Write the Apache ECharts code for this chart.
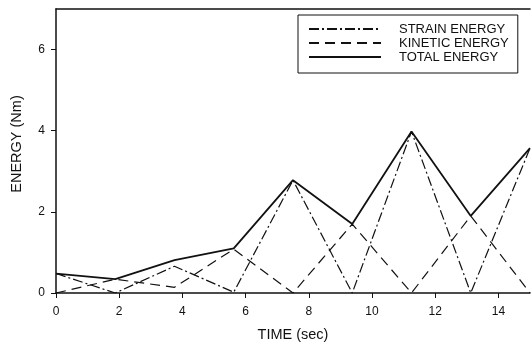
<!DOCTYPE html>
<html>
<head>
<meta charset="utf-8">
<title>Energy vs Time</title>
<script src="https://cdn.jsdelivr.net/npm/echarts@6/dist/echarts.min.js"></script>
<style>
  html, body { margin: 0; padding: 0; background: #fff; }
  #chart { width: 531px; height: 347px; }
</style>
</head>
<body>
<div id="chart"></div>
<script>
// Sample times (sec)
const time = [0, 1.875, 3.75, 5.625, 7.5, 9.375, 11.25, 13.125, 15];
// Energies (Nm) at each sample time
const strainEnergy  = [0.48, 0.00, 0.66, 0.02, 2.78, 0.00, 3.98, 0.00, 3.57];
const kineticEnergy = [0.00, 0.34, 0.14, 1.08, 0.00, 1.70, 0.00, 1.90, 0.00];
const totalEnergy   = [0.48, 0.34, 0.81, 1.10, 2.78, 1.70, 3.98, 1.90, 3.57];
// Axis tick labels
const xTicks = [0, 2, 4, 6, 8, 10, 12, 14];
const yTicks = [0, 2, 4, 6];

const pairs = (ys) => time.map((t, i) => [t, ys[i]]);
const ink = '#111';
const font = '"Liberation Sans", Arial, sans-serif';

const chart = echarts.init(document.getElementById('chart'), null, { renderer: 'canvas' });

chart.setOption({
  animation: false,
  backgroundColor: '#fff',
  grid: { left: 56, right: 1, top: 9, bottom: 54, containLabel: false },
  legend: {
    orient: 'vertical',
    left: 298,
    top: 15,
    padding: [7, 9, 9, 10],
    itemGap: 0,
    itemWidth: 72,
    itemHeight: 12,
    borderColor: ink,
    borderWidth: 1,
    // line samples only, no marker on them
    itemStyle: { color: 'rgba(0,0,0,0)', borderColor: 'rgba(0,0,0,0)', borderWidth: 0 },
    textStyle: { fontFamily: font, fontSize: 13, lineHeight: 14, color: ink, padding: [0, 0, 0, 13] },
    data: ['STRAIN ENERGY', 'KINETIC ENERGY', 'TOTAL ENERGY']
  },
  xAxis: [{
    type: 'value',
    min: 0,
    max: 15,
    interval: 2,
    name: 'TIME (sec)',
    nameLocation: 'middle',
    nameGap: 34,
    nameTextStyle: { fontFamily: font, fontSize: 14.5, color: ink },
    axisLine: { show: true, lineStyle: { color: ink, width: 1.5 } },
    axisTick: { show: true, inside: false, length: 5, customValues: xTicks, lineStyle: { color: ink, width: 1 } },
    axisLabel: { customValues: xTicks, margin: 13, fontFamily: font, fontSize: 12, color: ink },
    splitLine: { show: false }
  }, {
    type: 'value',
    position: 'top',
    min: 0,
    max: 15,
    axisLine: { show: true, lineStyle: { color: ink, width: 1.5 } },
    axisTick: { show: false },
    axisLabel: { show: false },
    splitLine: { show: false }
  }],
  yAxis: {
    type: 'value',
    min: 0,
    max: 7,
    interval: 2,
    axisLine: { show: true, lineStyle: { color: ink, width: 1.5 } },
    axisTick: { show: true, inside: false, length: 5, customValues: yTicks, lineStyle: { color: ink, width: 1 } },
    axisLabel: { customValues: yTicks, margin: 11, fontFamily: font, fontSize: 12, color: ink },
    splitLine: { show: false }
  },
  graphic: [{
    type: 'text',
    x: 17,
    y: 144,
    rotation: Math.PI / 2,
    style: {
      text: 'ENERGY (Nm)',
      fill: ink,
      font: '14.5px ' + font,
      align: 'center',
      verticalAlign: 'middle'
    }
  }],
  series: [{
    name: 'STRAIN ENERGY',
    type: 'line',
    data: pairs(strainEnergy),
    symbol: 'none',
    clip: true,
    lineStyle: { color: ink, width: 1.2, type: [10, 3, 2, 3] },
    itemStyle: { color: ink }
  }, {
    name: 'KINETIC ENERGY',
    type: 'line',
    data: pairs(kineticEnergy),
    symbol: 'none',
    clip: true,
    lineStyle: { color: ink, width: 1.2, type: [10, 6] },
    itemStyle: { color: ink }
  }, {
    name: 'TOTAL ENERGY',
    type: 'line',
    data: pairs(totalEnergy),
    symbol: 'none',
    clip: true,
    lineStyle: { color: ink, width: 1.8, type: 'solid' },
    itemStyle: { color: ink }
  }]
});
</script>
</body>
</html>
